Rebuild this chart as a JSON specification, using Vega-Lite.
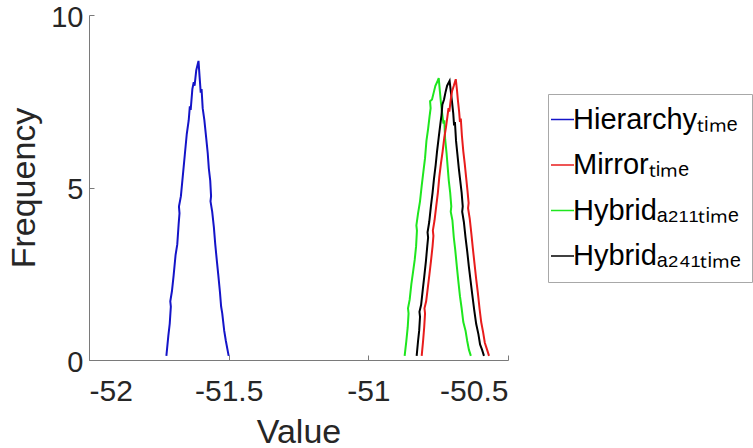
{
  "$schema": "https://vega.github.io/schema/vega-lite/v6.json",
  "width": 419,
  "height": 345,
  "autosize": {"type": "none"},
  "padding": {"left": 89, "top": 15, "right": 245, "bottom": 88},
  "background": "white",
  "config": {
    "view": {"stroke": null},
    "font": "Liberation Sans",
    "axis": {
      "grid": false,
      "domainColor": "#7a7a7a",
      "tickColor": "#7a7a7a",
      "domainWidth": 1,
      "tickWidth": 1,
      "tickSize": -5,
      "labelFont": "Liberation Sans",
      "labelFontSize": 30,
      "labelColor": "#262626",
      "titleFont": "Liberation Sans",
      "titleFontSize": 34,
      "titleFontWeight": "normal",
      "titleColor": "#262626"
    }
  },
  "data": {
    "values": [
      {"s":"Hierarchy","i":0,"x":-51.723,"y":0.12},{"s":"Hierarchy","i":1,"x":-51.716,"y":0.70},{"s":"Hierarchy","i":2,"x":-51.711,"y":1.05},{"s":"Hierarchy","i":3,"x":-51.707,"y":1.55},{"s":"Hierarchy","i":4,"x":-51.709,"y":1.70},{"s":"Hierarchy","i":5,"x":-51.703,"y":2.00},{"s":"Hierarchy","i":6,"x":-51.697,"y":2.45},{"s":"Hierarchy","i":7,"x":-51.690,"y":3.05},{"s":"Hierarchy","i":8,"x":-51.684,"y":3.35},{"s":"Hierarchy","i":9,"x":-51.679,"y":3.95},{"s":"Hierarchy","i":10,"x":-51.676,"y":4.25},{"s":"Hierarchy","i":11,"x":-51.678,"y":4.45},{"s":"Hierarchy","i":12,"x":-51.671,"y":4.75},{"s":"Hierarchy","i":13,"x":-51.664,"y":5.35},{"s":"Hierarchy","i":14,"x":-51.657,"y":5.95},{"s":"Hierarchy","i":15,"x":-51.650,"y":6.55},{"s":"Hierarchy","i":16,"x":-51.643,"y":6.95},{"s":"Hierarchy","i":17,"x":-51.639,"y":7.35},{"s":"Hierarchy","i":18,"x":-51.636,"y":7.25},{"s":"Hierarchy","i":19,"x":-51.630,"y":7.85},{"s":"Hierarchy","i":20,"x":-51.625,"y":8.05},{"s":"Hierarchy","i":21,"x":-51.622,"y":7.95},{"s":"Hierarchy","i":22,"x":-51.616,"y":8.40},{"s":"Hierarchy","i":23,"x":-51.608,"y":8.67},
      {"s":"Hierarchy","i":24,"x":-51.604,"y":8.20},{"s":"Hierarchy","i":25,"x":-51.600,"y":7.75},{"s":"Hierarchy","i":26,"x":-51.597,"y":7.85},{"s":"Hierarchy","i":27,"x":-51.593,"y":7.30},{"s":"Hierarchy","i":28,"x":-51.587,"y":6.95},{"s":"Hierarchy","i":29,"x":-51.580,"y":6.40},{"s":"Hierarchy","i":30,"x":-51.575,"y":6.00},{"s":"Hierarchy","i":31,"x":-51.571,"y":5.55},{"s":"Hierarchy","i":32,"x":-51.566,"y":5.20},{"s":"Hierarchy","i":33,"x":-51.563,"y":4.75},{"s":"Hierarchy","i":34,"x":-51.565,"y":4.60},{"s":"Hierarchy","i":35,"x":-51.559,"y":4.30},{"s":"Hierarchy","i":36,"x":-51.553,"y":3.85},{"s":"Hierarchy","i":37,"x":-51.548,"y":3.35},{"s":"Hierarchy","i":38,"x":-51.542,"y":2.85},{"s":"Hierarchy","i":39,"x":-51.537,"y":2.45},{"s":"Hierarchy","i":40,"x":-51.531,"y":1.95},{"s":"Hierarchy","i":41,"x":-51.527,"y":1.55},{"s":"Hierarchy","i":42,"x":-51.523,"y":1.35},{"s":"Hierarchy","i":43,"x":-51.516,"y":0.85},{"s":"Hierarchy","i":44,"x":-51.510,"y":0.55},{"s":"Hierarchy","i":45,"x":-51.500,"y":0.12},

      {"s":"HybridA211","i":0,"x":-50.870,"y":0.12},{"s":"HybridA211","i":1,"x":-50.864,"y":0.55},{"s":"HybridA211","i":2,"x":-50.859,"y":0.95},{"s":"HybridA211","i":3,"x":-50.856,"y":1.35},{"s":"HybridA211","i":4,"x":-50.858,"y":1.50},{"s":"HybridA211","i":5,"x":-50.852,"y":1.75},{"s":"HybridA211","i":6,"x":-50.846,"y":2.20},{"s":"HybridA211","i":7,"x":-50.840,"y":2.55},{"s":"HybridA211","i":8,"x":-50.834,"y":2.90},{"s":"HybridA211","i":9,"x":-50.829,"y":3.30},{"s":"HybridA211","i":10,"x":-50.826,"y":3.75},{"s":"HybridA211","i":11,"x":-50.828,"y":3.90},{"s":"HybridA211","i":12,"x":-50.822,"y":4.25},{"s":"HybridA211","i":13,"x":-50.815,"y":4.60},{"s":"HybridA211","i":14,"x":-50.809,"y":5.05},{"s":"HybridA211","i":15,"x":-50.803,"y":5.45},{"s":"HybridA211","i":16,"x":-50.797,"y":5.85},{"s":"HybridA211","i":17,"x":-50.792,"y":6.35},{"s":"HybridA211","i":18,"x":-50.786,"y":6.70},{"s":"HybridA211","i":19,"x":-50.781,"y":7.05},{"s":"HybridA211","i":20,"x":-50.777,"y":7.30},{"s":"HybridA211","i":21,"x":-50.779,"y":7.50},{"s":"HybridA211","i":22,"x":-50.772,"y":7.55},{"s":"HybridA211","i":23,"x":-50.766,"y":7.75},{"s":"HybridA211","i":24,"x":-50.760,"y":7.95},{"s":"HybridA211","i":25,"x":-50.754,"y":8.05},{"s":"HybridA211","i":26,"x":-50.748,"y":8.17},
      {"s":"HybridA211","i":27,"x":-50.744,"y":7.80},{"s":"HybridA211","i":28,"x":-50.740,"y":7.45},{"s":"HybridA211","i":29,"x":-50.735,"y":7.10},{"s":"HybridA211","i":30,"x":-50.731,"y":6.85},{"s":"HybridA211","i":31,"x":-50.728,"y":6.95},{"s":"HybridA211","i":32,"x":-50.725,"y":6.40},{"s":"HybridA211","i":33,"x":-50.720,"y":6.00},{"s":"HybridA211","i":34,"x":-50.716,"y":5.60},{"s":"HybridA211","i":35,"x":-50.712,"y":5.20},{"s":"HybridA211","i":36,"x":-50.707,"y":4.85},{"s":"HybridA211","i":37,"x":-50.703,"y":4.45},{"s":"HybridA211","i":38,"x":-50.705,"y":4.30},{"s":"HybridA211","i":39,"x":-50.699,"y":4.05},{"s":"HybridA211","i":40,"x":-50.694,"y":3.55},{"s":"HybridA211","i":41,"x":-50.689,"y":3.20},{"s":"HybridA211","i":42,"x":-50.683,"y":2.70},{"s":"HybridA211","i":43,"x":-50.678,"y":2.30},{"s":"HybridA211","i":44,"x":-50.672,"y":1.85},{"s":"HybridA211","i":45,"x":-50.666,"y":1.50},{"s":"HybridA211","i":46,"x":-50.660,"y":1.10},{"s":"HybridA211","i":47,"x":-50.652,"y":0.85},{"s":"HybridA211","i":48,"x":-50.646,"y":0.55},{"s":"HybridA211","i":49,"x":-50.640,"y":0.30},{"s":"HybridA211","i":50,"x":-50.633,"y":0.12},

      {"s":"HybridA241","i":0,"x":-50.827,"y":0.12},{"s":"HybridA241","i":1,"x":-50.822,"y":0.55},{"s":"HybridA241","i":2,"x":-50.818,"y":0.85},{"s":"HybridA241","i":3,"x":-50.815,"y":1.25},{"s":"HybridA241","i":4,"x":-50.817,"y":1.40},{"s":"HybridA241","i":5,"x":-50.811,"y":1.60},{"s":"HybridA241","i":6,"x":-50.805,"y":2.05},{"s":"HybridA241","i":7,"x":-50.800,"y":2.40},{"s":"HybridA241","i":8,"x":-50.794,"y":2.85},{"s":"HybridA241","i":9,"x":-50.789,"y":3.30},{"s":"HybridA241","i":10,"x":-50.786,"y":3.55},{"s":"HybridA241","i":11,"x":-50.788,"y":3.70},{"s":"HybridA241","i":12,"x":-50.782,"y":4.00},{"s":"HybridA241","i":13,"x":-50.776,"y":4.45},{"s":"HybridA241","i":14,"x":-50.770,"y":4.85},{"s":"HybridA241","i":15,"x":-50.765,"y":5.25},{"s":"HybridA241","i":16,"x":-50.759,"y":5.65},{"s":"HybridA241","i":17,"x":-50.754,"y":6.05},{"s":"HybridA241","i":18,"x":-50.748,"y":6.45},{"s":"HybridA241","i":19,"x":-50.742,"y":6.85},{"s":"HybridA241","i":20,"x":-50.738,"y":7.10},{"s":"HybridA241","i":21,"x":-50.735,"y":7.40},{"s":"HybridA241","i":22,"x":-50.729,"y":7.55},{"s":"HybridA241","i":23,"x":-50.724,"y":7.75},{"s":"HybridA241","i":24,"x":-50.718,"y":7.95},{"s":"HybridA241","i":25,"x":-50.709,"y":8.09},
      {"s":"HybridA241","i":26,"x":-50.705,"y":7.80},{"s":"HybridA241","i":27,"x":-50.700,"y":7.45},{"s":"HybridA241","i":28,"x":-50.696,"y":7.15},{"s":"HybridA241","i":29,"x":-50.693,"y":6.80},{"s":"HybridA241","i":30,"x":-50.690,"y":6.90},{"s":"HybridA241","i":31,"x":-50.686,"y":6.35},{"s":"HybridA241","i":32,"x":-50.681,"y":5.95},{"s":"HybridA241","i":33,"x":-50.676,"y":5.55},{"s":"HybridA241","i":34,"x":-50.671,"y":5.20},{"s":"HybridA241","i":35,"x":-50.666,"y":4.85},{"s":"HybridA241","i":36,"x":-50.662,"y":4.45},{"s":"HybridA241","i":37,"x":-50.664,"y":4.30},{"s":"HybridA241","i":38,"x":-50.658,"y":4.00},{"s":"HybridA241","i":39,"x":-50.652,"y":3.55},{"s":"HybridA241","i":40,"x":-50.646,"y":3.15},{"s":"HybridA241","i":41,"x":-50.640,"y":2.70},{"s":"HybridA241","i":42,"x":-50.634,"y":2.30},{"s":"HybridA241","i":43,"x":-50.628,"y":1.90},{"s":"HybridA241","i":44,"x":-50.621,"y":1.45},{"s":"HybridA241","i":45,"x":-50.614,"y":1.05},{"s":"HybridA241","i":46,"x":-50.606,"y":0.75},{"s":"HybridA241","i":47,"x":-50.600,"y":0.45},{"s":"HybridA241","i":48,"x":-50.593,"y":0.30},{"s":"HybridA241","i":49,"x":-50.586,"y":0.12},

      {"s":"Mirror","i":0,"x":-50.809,"y":0.12},{"s":"Mirror","i":1,"x":-50.804,"y":0.55},{"s":"Mirror","i":2,"x":-50.800,"y":0.95},{"s":"Mirror","i":3,"x":-50.797,"y":1.35},{"s":"Mirror","i":4,"x":-50.799,"y":1.50},{"s":"Mirror","i":5,"x":-50.793,"y":1.70},{"s":"Mirror","i":6,"x":-50.787,"y":2.10},{"s":"Mirror","i":7,"x":-50.781,"y":2.50},{"s":"Mirror","i":8,"x":-50.776,"y":2.85},{"s":"Mirror","i":9,"x":-50.770,"y":3.30},{"s":"Mirror","i":10,"x":-50.767,"y":3.60},{"s":"Mirror","i":11,"x":-50.769,"y":3.75},{"s":"Mirror","i":12,"x":-50.763,"y":4.05},{"s":"Mirror","i":13,"x":-50.757,"y":4.45},{"s":"Mirror","i":14,"x":-50.751,"y":4.85},{"s":"Mirror","i":15,"x":-50.746,"y":5.30},{"s":"Mirror","i":16,"x":-50.740,"y":5.70},{"s":"Mirror","i":17,"x":-50.734,"y":6.05},{"s":"Mirror","i":18,"x":-50.728,"y":6.45},{"s":"Mirror","i":19,"x":-50.722,"y":6.75},{"s":"Mirror","i":20,"x":-50.717,"y":7.05},{"s":"Mirror","i":21,"x":-50.713,"y":7.30},{"s":"Mirror","i":22,"x":-50.710,"y":7.20},{"s":"Mirror","i":23,"x":-50.705,"y":7.55},{"s":"Mirror","i":24,"x":-50.700,"y":7.80},{"s":"Mirror","i":25,"x":-50.694,"y":7.95},{"s":"Mirror","i":26,"x":-50.687,"y":8.14},
      {"s":"Mirror","i":27,"x":-50.683,"y":7.85},{"s":"Mirror","i":28,"x":-50.679,"y":7.50},{"s":"Mirror","i":29,"x":-50.675,"y":7.20},{"s":"Mirror","i":30,"x":-50.672,"y":6.90},{"s":"Mirror","i":31,"x":-50.669,"y":7.00},{"s":"Mirror","i":32,"x":-50.665,"y":6.50},{"s":"Mirror","i":33,"x":-50.660,"y":6.05},{"s":"Mirror","i":34,"x":-50.655,"y":5.70},{"s":"Mirror","i":35,"x":-50.650,"y":5.30},{"s":"Mirror","i":36,"x":-50.645,"y":4.90},{"s":"Mirror","i":37,"x":-50.641,"y":4.55},{"s":"Mirror","i":38,"x":-50.643,"y":4.40},{"s":"Mirror","i":39,"x":-50.637,"y":4.10},{"s":"Mirror","i":40,"x":-50.631,"y":3.65},{"s":"Mirror","i":41,"x":-50.626,"y":3.25},{"s":"Mirror","i":42,"x":-50.620,"y":2.80},{"s":"Mirror","i":43,"x":-50.614,"y":2.35},{"s":"Mirror","i":44,"x":-50.608,"y":1.95},{"s":"Mirror","i":45,"x":-50.602,"y":1.50},{"s":"Mirror","i":46,"x":-50.596,"y":1.10},{"s":"Mirror","i":47,"x":-50.589,"y":0.80},{"s":"Mirror","i":48,"x":-50.583,"y":0.50},{"s":"Mirror","i":49,"x":-50.575,"y":0.30},{"s":"Mirror","i":50,"x":-50.568,"y":0.12}
    ]
  },
  "mark": {"type": "line", "strokeWidth": 2, "interpolate": "linear"},
  "encoding": {
    "x": {
      "field": "x", "type": "quantitative", "title": "Value",
      "scale": {"domain": [-52, -50.5], "nice": false, "zero": false},
      "axis": {"values": [-52, -51.5, -51, -50.5], "labelExpr": "'' + datum.value", "labelPadding": 21, "titlePadding": 9}
    },
    "y": {
      "field": "y", "type": "quantitative", "title": "Frequency",
      "scale": {"domain": [0, 10], "nice": false},
      "axis": {"values": [0, 5, 10], "labelPadding": 11, "titlePadding": 9, "labelOffset": 2, "labelFontSize": 29}
    },
    "color": {
      "field": "s", "type": "nominal",
      "scale": {"domain": ["Hierarchy", "Mirror", "HybridA211", "HybridA241"], "range": ["#1414c8", "#e81c1c", "#1ee61e", "#000000"]},
      "legend": {
        "title": null,
        "orient": "none",
        "legendX": 459,
        "legendY": 79,
        "strokeColor": "#a8a8a8",
        "fillColor": "white",
        "padding": 11,
        "symbolType": "stroke",
        "symbolSize": 529,
        "symbolStrokeWidth": 1.5,
        "symbolOffset": -11,
        "labelFont": "Liberation Sans",
        "labelFontSize": 29,
        "labelColor": "#000000",
        "labelLimit": 400,
        "labelOffset": -4,
        "rowPadding": 15.5,
        "labelExpr": "datum.label == 'Hierarchy' ? 'Hierarchyₜᵢₘₑ' : datum.label == 'Mirror' ? 'Mirrorₜᵢₘₑ' : datum.label == 'HybridA211' ? 'Hybridₐ₂₁₁ₜᵢₘₑ' : 'Hybridₐ₂₄₁ₜᵢₘₑ'"
      }
    },
    "order": {"field": "i", "type": "quantitative"}
  }
}
